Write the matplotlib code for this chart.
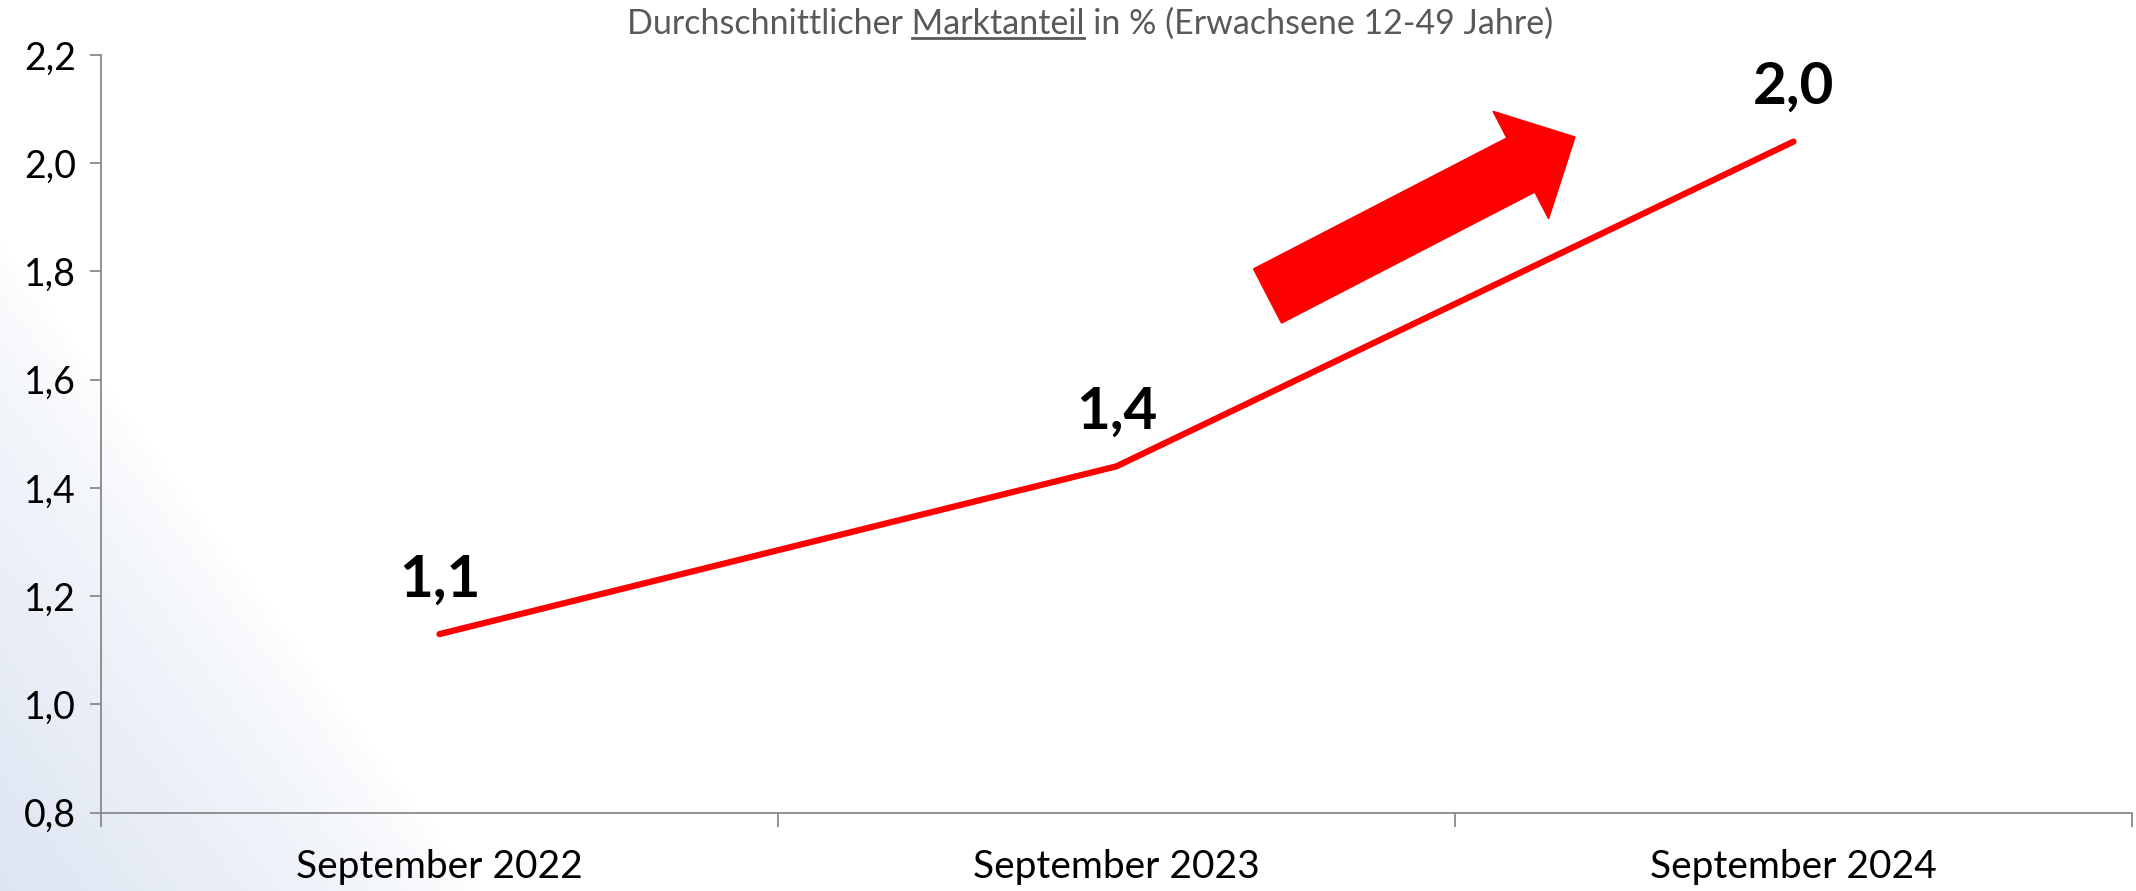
import matplotlib
matplotlib.use("Agg")
import matplotlib.pyplot as plt
import matplotlib.patches as mpatches
from matplotlib.lines import Line2D
import numpy as np

# Data
categories = ["September 2022", "September 2023", "September 2024"]
values = [1.13, 1.44, 2.04]
value_labels = ["1,1", "1,4", "2,0"]
y_ticks = [0.8, 1.0, 1.2, 1.4, 1.6, 1.8, 2.0, 2.2]
title_pre = "Durchschnittlicher"
title_mid = "Marktanteil"
title_full = "Durchschnittlicher Marktanteil in % (Erwachsene 12-49 Jahre)"

W, H = 2136, 891
plt.rcParams['font.family'] = ['Lato', 'DejaVu Sans']
fig = plt.figure(figsize=(W / 100, H / 100), dpi=100)

# soft blue wash in the lower-left corner
bg = fig.add_axes([0, 0, 1, 1], zorder=-10)
yy, xx = np.mgrid[0:H, 0:W]
d = (xx / 480.0 + (H - yy) / 650.0)
a = np.clip(1.0 - d, 0, 1) ** 0.7
img = np.ones((H, W, 3))
tint = np.array([0.87, 0.90, 0.95])
img = img * (1 - a[..., None]) + tint * a[..., None]
bg.imshow(img, aspect='auto', extent=[0, 1, 0, 1], origin='upper')
bg.axis('off')

ax = fig.add_axes([101 / W, 1 - 812.7 / H, (2132 - 101) / W, (812.7 - 55) / H])
ax.patch.set_alpha(0)
x = np.arange(len(categories))
ax.plot(x, values, color='#ff0000', lw=4.5, solid_capstyle='round', zorder=3)
for xi, v, lab in zip(x, values, value_labels):
    ax.annotate(lab, (xi, v), xytext=(0, 39), textcoords='offset points',
                ha='center', va='center', fontsize=42, fontweight='bold', color='black')

ax.set_xlim(-0.5, len(categories) - 0.5)
ax.set_ylim(0.8, 2.2)
ax.set_yticks(y_ticks)
ax.set_yticklabels([f"{t:.1f}".replace(".", ",") for t in y_ticks])
ax.set_xticks(x)
ax.set_xticklabels(categories)
ax.set_xticks(np.arange(-0.5, len(categories)), minor=True)
ax.tick_params(axis='x', which='major', length=0, pad=26, labelsize=28)
ax.tick_params(axis='x', which='minor', length=10, width=1.3, color='#898989', direction='out')
ax.tick_params(axis='y', length=8, width=1.3, color='#898989', labelsize=27, pad=10)
for s in ['top', 'right']:
    ax.spines[s].set_visible(False)
for s in ['left', 'bottom']:
    ax.spines[s].set_color('#898989')
    ax.spines[s].set_linewidth(1.3)

# block arrow (decoration), built in pixel space
tail = np.array([1267.5, 296.0])
tip = np.array([1575.0, 137.0])
u = (tip - tail) / np.linalg.norm(tip - tail)
n = np.array([u[1], -u[0]])
hl, sw, hw = 61, 61, 121
base = tip - u * hl
pts = [tail + n * sw / 2, base + n * sw / 2, base + n * hw / 2, tip,
       base - n * hw / 2, base - n * sw / 2, tail - n * sw / 2]
pts = [(p[0] / W, 1 - p[1] / H) for p in pts]
fig.patches.append(mpatches.Polygon(pts, closed=True, color='#ff0000',
                                    transform=fig.transFigure, zorder=5))

# title with underlined word
tcx, tcy = 1090 / W, 1 - 24 / H
title = fig.text(tcx, tcy, title_full, ha='center', va='center', fontsize=24.5, color='#595959')
r = fig.canvas.get_renderer()
bb = title.get_window_extent(r)
def tw(s):
    t = fig.text(0, 0, s, fontsize=24.5)
    w = t.get_window_extent(r).width
    t.remove()
    return w
w12 = tw(title_pre + " " + title_mid)
wm = tw(title_mid)
x1 = bb.x0 + w12 - wm
x2 = bb.x0 + w12
yl = bb.y0 + 2
fig.lines.append(Line2D([x1 / W, x2 / W], [yl / H, yl / H], color='#595959', lw=2,
                        transform=fig.transFigure))

fig.savefig("out.png", dpi=100)
